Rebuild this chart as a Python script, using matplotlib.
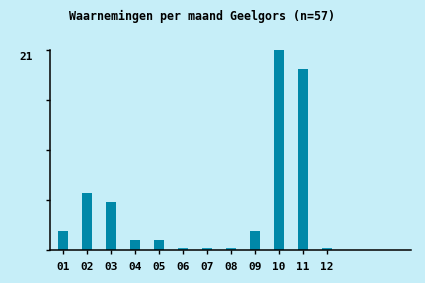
import numpy as np
import matplotlib
matplotlib.use("Agg")
import matplotlib.pyplot as plt

maanden = ["01", "02", "03", "04", "05", "06", "07", "08", "09", "10", "11", "12"]
aantallen = [2, 6, 5, 1, 1, 0, 0, 0, 2, 21, 19, 0]
ymax = 21

bg = "#c6eef8"
barkleur = "#0088a8"
nulkleur = "#1a9cbc"

plt.rcParams['font.family'] = ['DejaVu Sans Mono']
plt.rcParams['font.weight'] = 'bold'

fig = plt.figure(figsize=(4.25, 2.83), dpi=100, facecolor=bg)
ax = fig.add_axes([50/425, 33/283, 361/425, 200/283])
ax.set_facecolor(bg)

x = np.arange(len(maanden))
vals = np.array(aantallen, dtype=float)
# nul-maanden als dun streepje tonen
hoogte = np.where(vals > 0, vals, 0.2)
kleuren = [barkleur if v > 0 else nulkleur for v in vals]
ax.bar(x, hoogte, width=0.38, color=kleuren, linewidth=0)

ax.set_xlim(-0.54, 14.5)
ax.set_ylim(0, ymax)
ax.set_xticks(x)
ax.set_xticklabels(maanden, fontsize=8, fontweight='bold')
ax.tick_params(axis='x', length=3, width=1, pad=6, direction='out')
ax.set_yticks(np.linspace(0, ymax, 5))
ax.set_yticklabels([])
ax.tick_params(axis='y', length=3, width=1, direction='out')
ax.text(-0.62 - 0.62, ymax - 0.25, str(ymax), ha='right', va='top', fontsize=8,
        fontweight='bold')

for s in ['top', 'right']:
    ax.spines[s].set_visible(False)
ax.spines['left'].set_linewidth(1.1)
ax.spines['bottom'].set_linewidth(1.1)

fig.text(202/425, 1 - 16/283, "Waarnemingen per maand Geelgors (n=57)",
         ha='center', va='center', fontsize=8.4, fontweight='bold')

fig.savefig("out.png", dpi=100, facecolor=bg)
